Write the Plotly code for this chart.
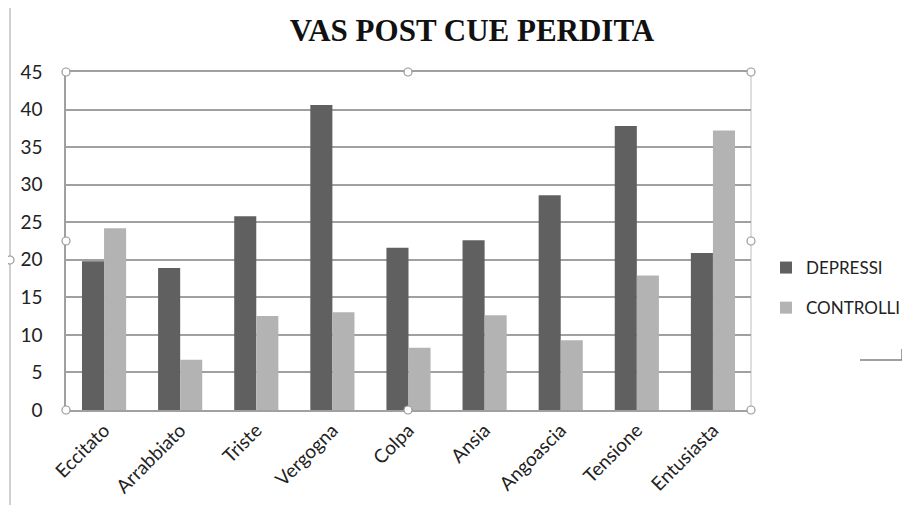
import plotly.graph_objects as go

categories = ["Eccitato", "Arrabbiato", "Triste", "Vergogna", "Colpa", "Ansia",
              "Angoascia", "Tensione", "Entusiasta"]
depressi = [19.8, 18.9, 25.8, 40.6, 21.6, 22.6, 28.6, 37.8, 20.9]
controlli = [24.2, 6.7, 12.5, 13.0, 8.3, 12.6, 9.3, 17.9, 37.2]
y_ticks = [0, 5, 10, 15, 20, 25, 30, 35, 40, 45]

# the page body has an 8px margin, so the figure is drawn 8px smaller and
# every reference pixel coordinate is shifted by -8
O = 8
W, H = 910 - O, 510 - O
L, R, T, B = 66 - O, 751 - O, 72 - O, 410 - O
pw, ph = R - L, B - T


def px(x):
    return (x - O - L) / pw


def py(y):
    return (B - (y - O)) / ph


fig = go.Figure()
fig.add_trace(go.Bar(x=categories, y=depressi, name="DEPRESSI", legendgroup="d",
                     marker=dict(color="#606060", line=dict(width=0))))
fig.add_trace(go.Bar(x=categories, y=controlli, name="CONTROLLI", legendgroup="c",
                     marker=dict(color="#b3b3b3", line=dict(width=0))))

grid = "#a0a0a0"
shapes = []
shapes.append(dict(type="line", xref="paper", yref="paper", x0=1, x1=1, y0=0, y1=1,
                   line=dict(color="#c8c8c8", width=1.2), layer="below"))
shapes.append(dict(type="line", xref="paper", yref="paper", x0=px(10), x1=px(10),
                   y0=py(8), y1=py(505), line=dict(color="#b0b0b0", width=1.2)))
shapes.append(dict(type="line", xref="paper", yref="paper", x0=px(860), x1=px(902),
                   y0=py(360), y1=py(360), line=dict(color="#808080", width=1.5)))
shapes.append(dict(type="line", xref="paper", yref="paper", x0=px(902), x1=px(902),
                   y0=py(360), y1=py(349), line=dict(color="#808080", width=1.5)))
r = 4
for (hx, hy) in [(66, 72), (408, 72), (751, 72), (66, 241), (751, 241),
                 (66, 410), (408, 410), (751, 410), (10, 260)]:
    shapes.append(dict(type="circle", xref="paper", yref="paper",
                       x0=px(hx - r), x1=px(hx + r), y0=py(hy + r), y1=py(hy - r),
                       fillcolor="white", line=dict(color="#999999", width=1.2),
                       layer="above"))

fig.update_layout(
    width=W, height=H,
    margin=dict(l=L, r=W - R, t=T, b=H - B, pad=0, autoexpand=False),
    paper_bgcolor="white", plot_bgcolor="white",
    title=dict(text="<b>VAS POST CUE PERDITA</b>", x=(472 - O) / W, xanchor="center",
               y=1 - (30 - O) / H, yanchor="middle",
               font=dict(family="Liberation Serif", size=31, color="#111111")),
    barmode="group", bargap=0.42, bargroupgap=0,
    font=dict(family="Lato", size=19, color="#222222"),
    xaxis=dict(type="category", tickangle=-45, showline=True, linecolor=grid,
               linewidth=1.5, mirror=True, ticks="", showgrid=False,
               tickfont=dict(family="Lato", size=19, color="#222222"),
               range=[-0.5, 8.5], automargin=False),
    yaxis=dict(range=[0, 45], tickvals=y_ticks, showgrid=True, gridcolor=grid,
               gridwidth=1.5, showline=True, linecolor=grid, linewidth=1.5,
               zeroline=False, ticks="", ticklabelstandoff=18, automargin=False,
               tickfont=dict(family="Lato", size=19, color="#222222")),
    legend=dict(x=px(766), y=py(250), xanchor="left", yanchor="top",
                font=dict(family="Lato", size=17, color="#222222"),
                tracegroupgap=15, bgcolor="rgba(0,0,0,0)", itemwidth=30),
    shapes=shapes,
)

fig.write_html("out.html")
